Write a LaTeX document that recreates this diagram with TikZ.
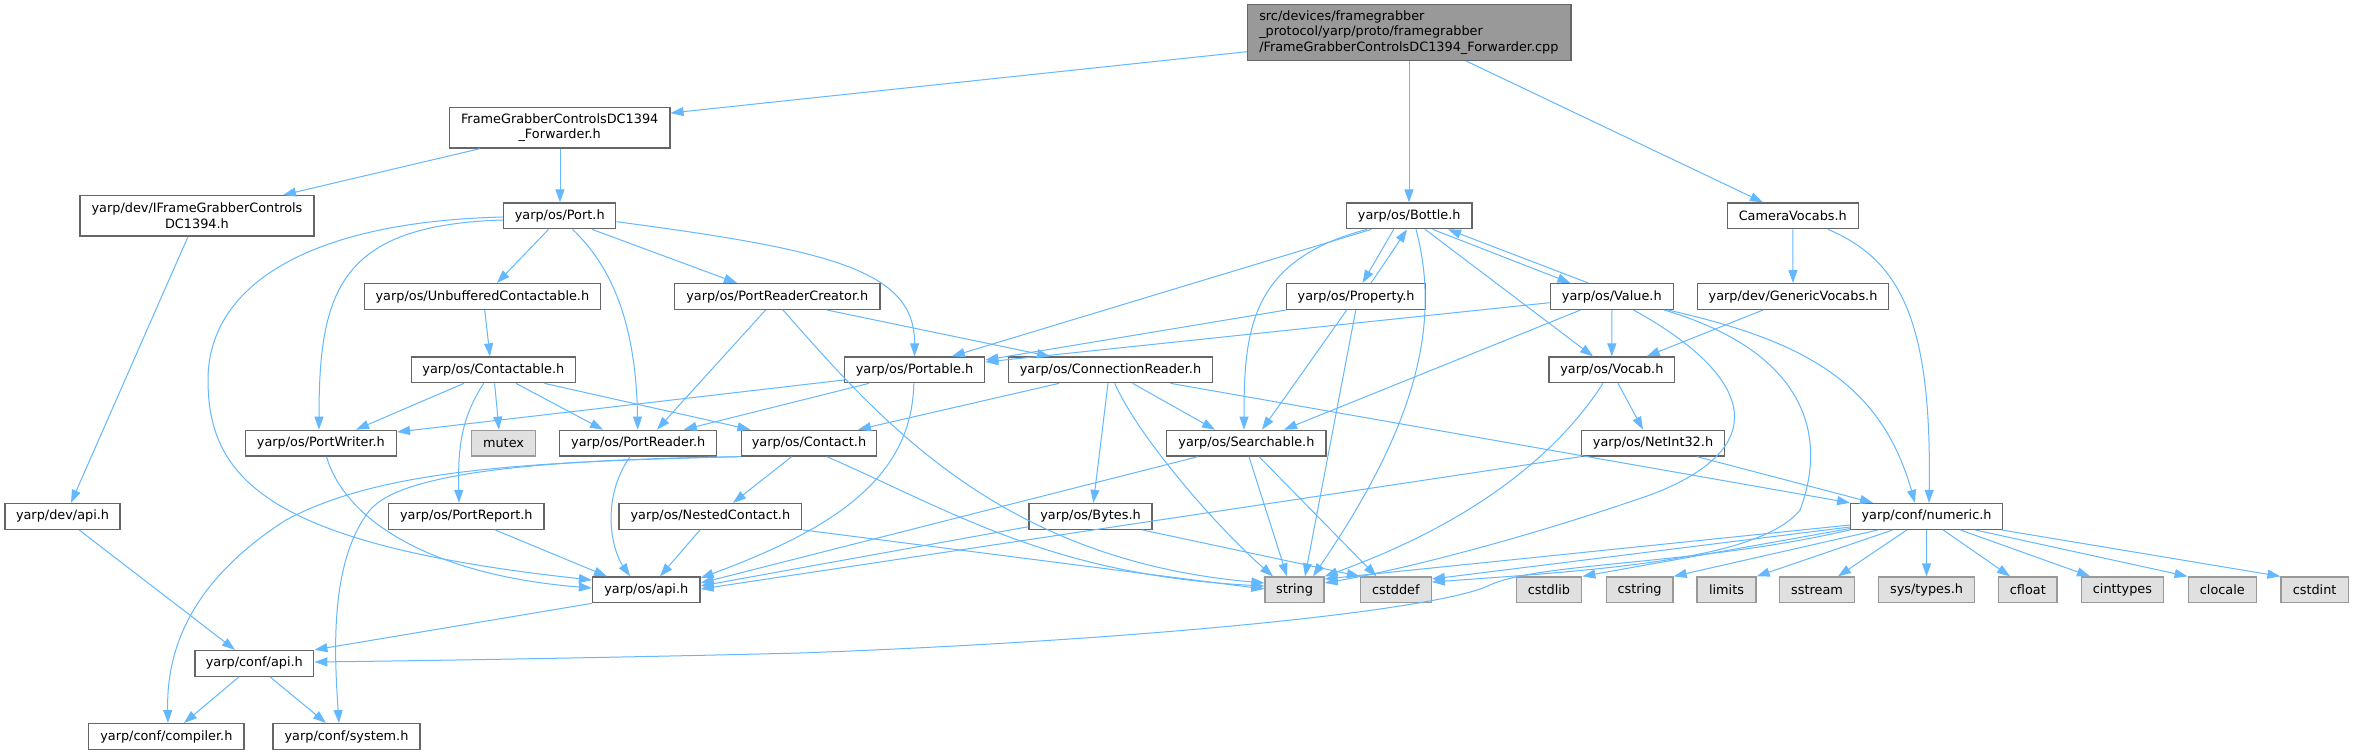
\documentclass[tikz,border=0pt]{standalone}
\usepackage{fontspec}
\setmainfont{DejaVu Sans}
\usetikzlibrary{arrows.meta}
\definecolor{edgec}{HTML}{63B8FF}
\definecolor{bord}{HTML}{666666}
\definecolor{extf}{HTML}{E0E0E0}
\definecolor{extb}{HTML}{999999}
\definecolor{mainf}{HTML}{999999}
\begin{document}
\begin{tikzpicture}[x=1pt,y=-1pt,
  every node/.style={font=\fontsize{12.85}{15.3}\selectfont, inner sep=0pt},
  box/.style={draw=bord, fill=white, line width=1.3pt, minimum height=25.7pt},
  ext/.style={draw=extb, fill=extf, line width=1.3pt, minimum height=25.7pt},
  dep/.style={draw=edgec, line width=1pt, -{Triangle[length=13pt,width=9pt]}}]
\fill[white] (0,0) rectangle (2353,755);
\useasboundingbox (0,0) rectangle (2353,755);
% nodes
\node[box, fill=mainf, minimum width=323.5pt, minimum height=55.6pt, text width=300pt, align=left] (main) at (1409.25,32.5) {src/devices/framegrabber\\\_protocol/yarp/proto/framegrabber\\/FrameGrabberControlsDC1394\_Forwarder.cpp};
\node[box, minimum width=220.4pt, minimum height=40.3pt, align=center] (fgcf) at (559.7,127.85) {FrameGrabberControlsDC1394\\\_Forwarder.h};
\node[box, minimum width=234pt, minimum height=40.3pt, align=center] (iframe) at (197,215.85) {yarp/dev/IFrameGrabberControls\\DC1394.h};
\node[box, minimum width=112.2pt] (port) at (559.7,215.85) {yarp/os/Port.h};
\node[box, minimum width=125.6pt] (bottle) at (1409.2,215.85) {yarp/os/Bottle.h};
\node[box, minimum width=131pt] (camera) at (1792.8,215.85) {CameraVocabs.h};
\node[box, minimum width=236.2pt] (unbuf) at (482.4,296.5) {yarp/os/UnbufferedContactable.h};
\node[box, minimum width=205.6pt] (prc) at (777.3,296.5) {yarp/os/PortReaderCreator.h};
\node[box, minimum width=138.8pt] (property) at (1356.1,296.5) {yarp/os/Property.h};
\node[box, minimum width=123pt] (value) at (1611.8,296.5) {yarp/os/Value.h};
\node[box, minimum width=191.4pt] (generic) at (1793,296.5) {yarp/dev/GenericVocabs.h};
\node[box, minimum width=164.3pt] (contactable) at (493.4,369.85) {yarp/os/Contactable.h};
\node[box, minimum width=140.3pt] (portable) at (914.55,369.85) {yarp/os/Portable.h};
\node[box, minimum width=203.5pt] (connreader) at (1110.45,369.85) {yarp/os/ConnectionReader.h};
\node[box, minimum width=125.7pt] (vocab) at (1611.85,369.85) {yarp/os/Vocab.h};
\node[box, minimum width=151pt] (portwriter) at (320.9,443.15) {yarp/os/PortWriter.h};
\node[ext, minimum width=64.3pt] (mutex) at (503.55,443.15) {mutex};
\node[box, minimum width=157.1pt] (portreader) at (638.25,443.15) {yarp/os/PortReader.h};
\node[box, minimum width=135.4pt] (contact) at (809,443.15) {yarp/os/Contact.h};
\node[box, minimum width=159.2pt] (searchable) at (1246.4,443.15) {yarp/os/Searchable.h};
\node[box, minimum width=143.4pt] (netint) at (1653,443.15) {yarp/os/NetInt32.h};
\node[box, minimum width=114.9pt] (devapi) at (62.55,516.35) {yarp/dev/api.h};
\node[box, minimum width=155.1pt] (portreport) at (466.35,516.35) {yarp/os/PortReport.h};
\node[box, minimum width=182.7pt] (nested) at (710.35,516.35) {yarp/os/NestedContact.h};
\node[box, minimum width=123pt] (bytes) at (1090.5,516.35) {yarp/os/Bytes.h};
\node[box, minimum width=151.7pt] (numeric) at (1926.55,516.35) {yarp/conf/numeric.h};
\node[box, minimum width=107.5pt] (osapi) at (646.25,589.85) {yarp/os/api.h};
\node[ext, minimum width=59pt] (string) at (1294.5,589.85) {string};
\node[ext, minimum width=70.7pt] (cstddef) at (1395.85,589.85) {cstddef};
\node[ext, minimum width=65.4pt] (cstdlib) at (1549,589.85) {cstdlib};
\node[ext, minimum width=66.8pt] (cstring) at (1639.6,589.85) {cstring};
\node[ext, minimum width=59pt] (limits) at (1726.5,589.85) {limits};
\node[ext, minimum width=74.9pt] (sstream) at (1817,589.85) {sstream};
\node[ext, minimum width=96.1pt] (systypes) at (1926.55,589.85) {sys/types.h};
\node[ext, minimum width=58.5pt] (cfloat) at (2027.85,589.85) {cfloat};
\node[ext, minimum width=82.5pt] (cinttypes) at (2122.45,589.85) {cinttypes};
\node[ext, minimum width=68.2pt] (clocale) at (2222.3,589.85) {clocale};
\node[ext, minimum width=67.2pt] (cstdint) at (2314.6,589.85) {cstdint};
\node[box, minimum width=118.9pt] (confapi) at (254.35,663.35) {yarp/conf/api.h};
\node[box, minimum width=155.1pt] (compiler) at (166.35,736.5) {yarp/conf/compiler.h};
\node[box, minimum width=147pt] (system) at (346.5,736.5) {yarp/conf/system.h};
% edges
\draw[dep] (main.west |- 0,51.7) -- (fgcf.east |- 0,113);
\draw[dep] (main.south -| 1409,0) -- (bottle.north -| 1409,0);
\draw[dep] (main.south -| 1466,0) -- (camera.north -| 1763,0);
\draw[dep] (fgcf.south -| 480,0) -- (iframe.north -| 283,0);
\draw[dep] (fgcf.south -| 560,0) -- (port.north -| 560,0);
\draw[dep] (iframe.south -| 188,0) -- (devapi.north -| 71,0);
\draw[dep] (devapi.south -| 79,0) -- (confapi.north -| 235,0);
\draw[dep] (osapi.south west) -- (confapi.north east);
\draw[dep] (confapi.south -| 239,0) -- (compiler.north -| 184,0);
\draw[dep] (confapi.south -| 270,0) -- (system.north -| 326,0);
% Port.h
\draw[dep] (port.south -| 548.5,0) -- (unbuf.north -| 497,0);
\draw[dep] (port.south -| 592,0) -- (prc.north -| 737,0);
\draw[dep] (port.east |- 0,221.7) .. controls (830,250) and (915,270) .. (portable.north);
\draw[dep] (port.west |- 0,217) .. controls (300,222) and (208,290) .. (208,380) .. controls (208,480) and (270,545) .. (osapi.west |- 0,580);
\draw[dep] (port.west |- 0,220) .. controls (340,225) and (319,290) .. (portwriter.north -| 319,0);
\draw[dep] (port.south -| 572.5,0) .. controls (610,265) and (636,320) .. (portreader.north -| 637.7,0);
\draw[dep] (unbuf.south -| 484.7,0) -- (contactable.north -| 490,0);
% Contactable.h
\draw[dep] (contactable.south -| 464,0) -- (portwriter.north -| 356,0);
\draw[dep] (contactable.south -| 494.6,0) -- (mutex.north -| 499,0);
\draw[dep] (contactable.south -| 516,0) -- (portreader.north -| 603,0);
\draw[dep] (contactable.south -| 544.4,0) -- (contact.north -| 750.4,0);
\draw[dep] (contactable.south -| 483.7,0) .. controls (460,420) and (458,450) .. (portreport.north -| 459,0);
% PortReaderCreator.h
\draw[dep] (prc.south -| 765.6,0) -- (portreader.north -| 657,0);
\draw[dep] (prc.south -| 783,0) .. controls (880,420) and (1000,560) .. (string.west |- 0,583);
\draw[dep] (prc.south -| 826.8,0) -- (connreader.north -| 1050,0);
% Portable.h
\draw[dep] (portable.west |- 0,380) -- (portwriter.east |- 0,432);
\draw[dep] (portable.south -| 869,0) -- (portreader.north -| 683.7,0);
\draw[dep] (portable.south -| 913.8,0) .. controls (912,480) and (830,530) .. (osapi.east |- 0,578);
% ConnectionReader.h
\draw[dep] (connreader.south -| 1059,0) -- (contact.north -| 858,0);
\draw[dep] (connreader.south -| 1108,0) -- (bytes.north -| 1093.4,0);
\draw[dep] (connreader.south -| 1114.7,0) .. controls (1140,440) and (1220,530) .. (string.north -| 1273,0);
\draw[dep] (connreader.south -| 1132.6,0) -- (searchable.north -| 1215,0);
\draw[dep] (connreader.south -| 1170.5,0) -- (numeric.north west);
% Bottle.h
\draw[dep] (bottle.south -| 1371.4,0) -- (portable.north -| 951.8,0);
\draw[dep] (bottle.south -| 1367,0) .. controls (1250,260) and (1244,330) .. (searchable.north -| 1244,0);
\draw[dep] (bottle.south -| 1393.7,0) -- (property.north -| 1362.5,0);
\draw[dep] (bottle.south -| 1416,0) .. controls (1440,320) and (1420,420) .. (string.north -| 1313,0);
\draw[dep] (bottle.south -| 1425,0) -- (vocab.north -| 1593,0);
\draw[dep] (bottle.south -| 1432.6,0) -- (value.north -| 1570.4,0);
% Property.h
\draw[dep] (property.north -| 1371,0) .. controls (1390,255) .. (bottle.south -| 1407,0);
\draw[dep] (property.south west) -- (portable.east |- 0,360);
\draw[dep] (property.south -| 1346.8,0) -- (searchable.north -| 1262,0);
\draw[dep] (property.south -| 1355.8,0) -- (string.north -| 1305,0);
% Value.h
\draw[dep] (value.north -| 1588.3,0) -- (bottle.south -| 1448,0);
\draw[dep] (value.west |- 0,302.7) -- (portable.east |- 0,362);
\draw[dep] (value.south -| 1580.6,0) -- (searchable.north -| 1284,0);
\draw[dep] (value.south) -- (vocab.north);
\draw[dep] (value.south -| 1633.6,0) .. controls (1760,380) and (1770,450) .. (1650,495) .. controls (1520,540) and (1400,570) .. (string.east |- 0,583);
\draw[dep] (value.south -| 1664,0) .. controls (1800,350) and (1830,430) .. (1800,510) .. controls (1760,560) and (1600,570) .. (cstddef.east |- 0,582);
\draw[dep] (value.south -| 1668,0) .. controls (1800,340) and (1880,380) .. (numeric.north -| 1915,0);
% GenericVocabs / CameraVocabs
\draw[dep] (generic.south -| 1763,0) -- (vocab.north -| 1646.7,0);
\draw[dep] (camera.south) -- (generic.north);
\draw[dep] (camera.south -| 1828,0) .. controls (1900,260) and (1932,320) .. (numeric.north -| 1929,0);
% Vocab.h
\draw[dep] (vocab.south -| 1618,0) -- (netint.north -| 1643,0);
\draw[dep] (vocab.south -| 1603,0) .. controls (1560,450) and (1480,520) .. (string.north east);
% Searchable.h
\draw[dep] (searchable.south -| 1198,0) -- (osapi.east |- 0,583);
\draw[dep] (searchable.south -| 1249,0) -- (string.north -| 1287,0);
\draw[dep] (searchable.south -| 1259,0) -- (cstddef.north -| 1376.5,0);
% Bytes.h
\draw[dep] (bytes.west |- 0,526.7) -- (osapi.east |- 0,586);
\draw[dep] (bytes.south -| 1142,0) -- (cstddef.north west);
% NetInt32.h
\draw[dep] (netint.south -| 1697,0) -- (numeric.north -| 1873,0);
\draw[dep] (netint.south west) -- (osapi.east |- 0,589);
% Contact.h
\draw[dep] (contact.south -| 791.7,0) -- (nested.north -| 733,0);
\draw[dep] (contact.south -| 826.7,0) .. controls (950,510) and (1050,575) .. (string.west |- 0,586);
\draw[dep] (contact.south west) .. controls (520,462) and (380,470) .. (286,520) .. controls (200,575) and (166,640) .. (compiler.north -| 168,0);
\draw[dep] (contact.south west) .. controls (520,460) and (400,475) .. (370,510) .. controls (330,560) and (334,650) .. (system.north -| 339,0);
% NestedContact.h, PortReport.h, PortWriter.h, PortReader.h
\draw[dep] (nested.south -| 700,0) -- (osapi.north -| 660,0);
\draw[dep] (nested.south east) -- (string.west |- 0,589);
\draw[dep] (portreport.south -| 495,0) -- (osapi.north -| 607,0);
\draw[dep] (portwriter.south -| 326.5,0) .. controls (345,520) and (430,575) .. (osapi.west |- 0,588);
\draw[dep] (portreader.south -| 630,0) .. controls (600,500) and (612,550) .. (osapi.north -| 630,0);
% numeric.h
\draw[dep] (numeric.west |- 0,525) -- (string.east |- 0,579);
\draw[dep] (numeric.west |- 0,527) -- (cstddef.east |- 0,579);
\draw[dep] (numeric.west |- 0,528.5) -- (cstdlib.north east);
\draw[dep] (numeric.south west) .. controls (1700,565) and (1540,562) .. (1490,585) .. controls (1440,610) and (1150,640) .. (800,653) .. controls (600,658) and (400,661) .. (confapi.east |- 0,662);
\draw[dep] (numeric.south -| 1878.5,0) -- (cstring.north east);
\draw[dep] (numeric.south -| 1893,0) -- (limits.north east);
\draw[dep] (numeric.south -| 1907,0) -- (sstream.north -| 1838,0);
\draw[dep] (numeric.south) -- (systypes.north);
\draw[dep] (numeric.south -| 1943,0) -- (cfloat.north -| 2010,0);
\draw[dep] (numeric.south -| 1960,0) -- (cinttypes.north -| 2090,0);
\draw[dep] (numeric.south -| 1974.6,0) -- (clocale.north west);
\draw[dep] (numeric.south -| 2001,0) -- (cstdint.north west);
\end{tikzpicture}
\end{document}
